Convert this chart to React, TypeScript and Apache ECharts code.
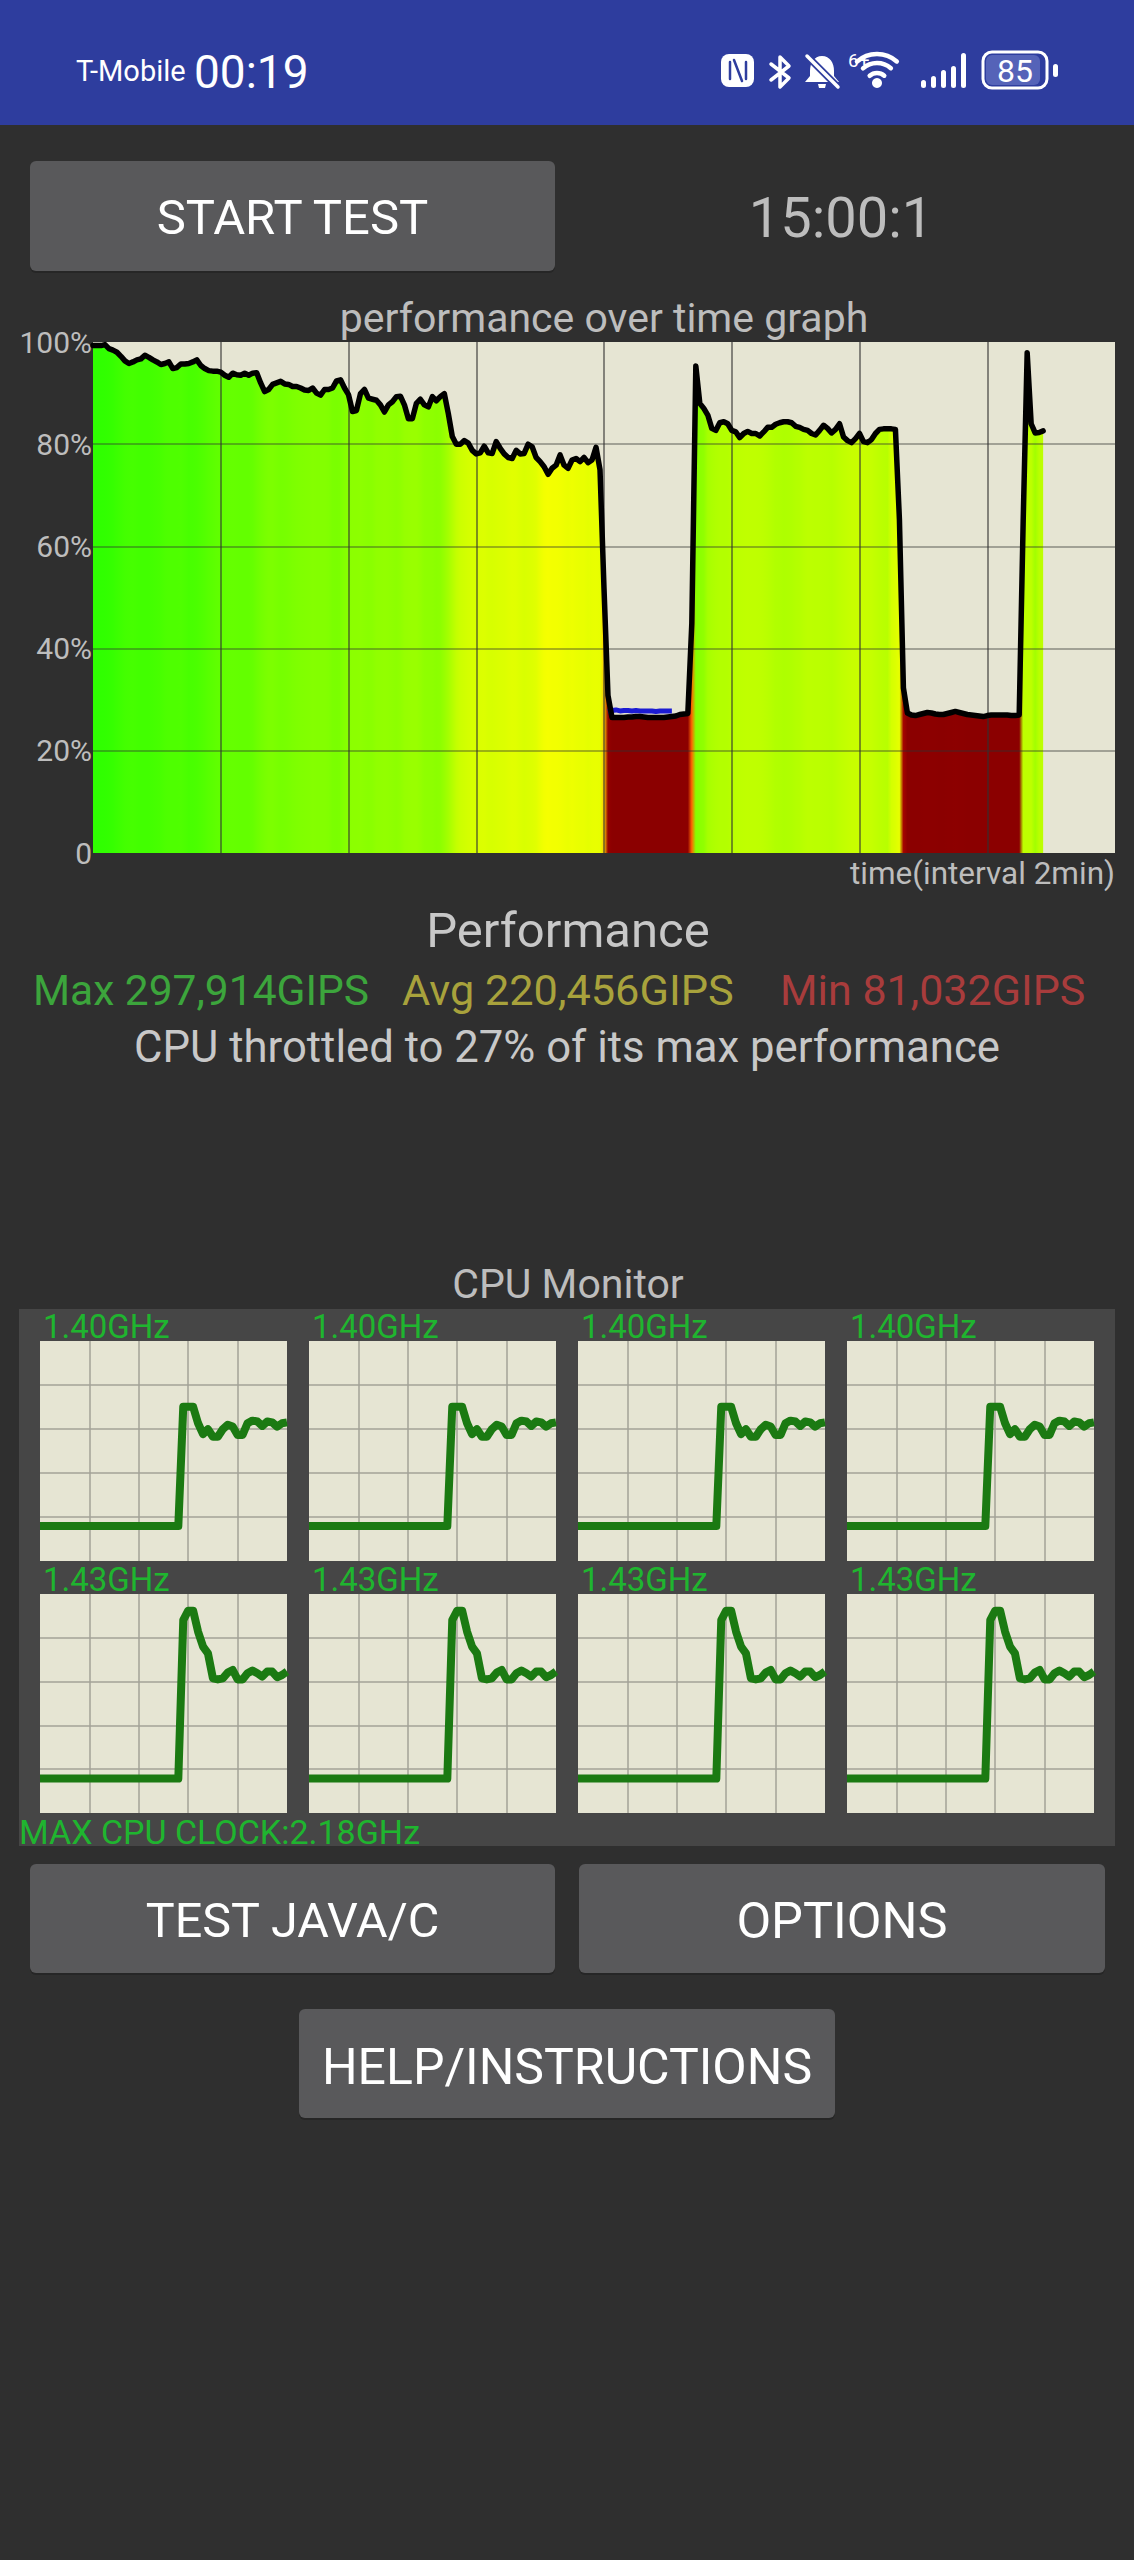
import React, { useEffect, useRef } from "react";
import * as echarts from "echarts";

const FONT = "Roboto, 'Noto Sans', sans-serif";

// ---- data ---------------------------------------------------------------
const sampleMinutes = 0.0625;
const performancePct = [
  99.3, 99.3, 99.3, 99.5, 98.7, 98.4, 98.0, 97.2, 96.3, 95.8, 96.1, 96.5, 96.7, 97.4, 97.0, 96.5, 96.1, 95.6, 95.8, 96.1,
  94.8, 95.0, 95.7, 95.7, 95.8, 96.1, 96.5, 95.4, 94.8, 94.4, 94.3, 94.3, 94.1, 93.5, 93.1, 93.9, 93.6, 93.5, 93.9, 93.5,
  93.9, 94.0, 92.0, 90.3, 90.7, 91.7, 92.0, 92.3, 91.8, 91.7, 91.3, 91.3, 91.0, 90.6, 90.5, 91.0, 90.0, 89.6, 90.7, 90.7,
  91.0, 92.4, 92.6, 91.0, 89.7, 86.4, 86.6,
  89.9, 90.7, 89.0, 88.8, 88.6, 87.7, 86.3, 87.7, 88.3, 89.3, 89.4, 87.7, 85.0, 85.0, 88.0, 88.8, 87.7, 87.3, 89.3, 88.5,
  89.3, 89.9, 86.0, 81.5, 80.0, 80.0, 80.7, 80.2, 78.8, 78.1, 78.3, 79.6, 78.3, 78.2, 80.5, 79.2, 78.1, 77.4, 77.2, 78.8,
  78.1, 78.2, 80.0, 79.5, 77.4, 76.6, 75.6, 74.1, 75.3, 75.9, 77.9, 75.9, 75.3, 76.9, 77.2, 76.6, 77.4, 76.4, 76.9, 79.4,
  75.0, 51.8, 30.8,
  26.5, 26.5, 26.5, 26.5, 26.6, 26.6, 26.7, 26.7, 26.6, 26.5, 26.5, 26.5, 26.5, 26.5, 26.6, 26.7, 26.8, 27.1, 27.2, 27.3,
  45.0, 95.3,
  88.0, 87.0, 85.7, 83.1, 82.7, 84.2, 84.4, 84.0, 82.7, 82.4, 81.3, 82.1, 82.5, 82.1, 82.1, 81.6, 82.4, 83.3, 83.3, 83.9,
  84.2, 84.4, 84.4, 84.2, 83.5, 83.3, 82.9, 82.7, 82.1, 81.8, 82.7, 83.7, 83.1, 82.2, 82.9, 84.0, 81.4, 80.7, 80.3, 81.1,
  82.1, 80.5, 80.3, 80.9, 82.1, 82.9, 83.0, 83.0, 83.0, 82.9,
  65.3, 32.3,
  27.4, 27.0, 26.9, 27.1, 27.3, 27.5, 27.4, 27.2, 27.1, 27.1, 27.3, 27.5, 27.7, 27.5, 27.3, 27.1, 27.0, 26.9, 26.8, 26.7,
  26.9, 27.0, 27.0, 27.0, 27.0, 27.0, 26.9, 26.9, 27.0,
  65.0, 97.9, 84.0, 82.2, 82.3, 82.6,
];
const lowestMarkStart = 129;
const lowestMarkPct = [27.7, 27.9, 28.0, 27.8, 27.9, 27.9, 27.8, 27.9, 27.8, 27.8, 27.8, 27.8, 27.7, 27.8, 27.8, 27.8, 27.8];

const cpuRowOnePct = [
  15.9, 15.9, 15.9, 15.9, 15.9, 15.9, 15.9, 15.9, 15.9, 15.9, 15.9, 15.9, 15.9, 15.9, 15.9, 15.9, 15.9, 15.9, 15.9, 15.9,
  15.9, 15.9, 15.9, 15.9, 15.9, 15.9, 15.9, 15.9, 15.9,
  70.1, 70.1, 70.1, 62.6, 57.7, 59.9, 56.5, 56.5, 59.9, 61.9, 61.1, 57.3, 57.3, 62.6, 63.8, 63.4, 61.4, 63.4, 63.0, 61.1, 62.6, 63.0,
];
const cpuRowTwoPct = [
  15.7, 15.7, 15.7, 15.7, 15.7, 15.7, 15.7, 15.7, 15.7, 15.7, 15.7, 15.7, 15.7, 15.7, 15.7, 15.7, 15.7, 15.7, 15.7, 15.7,
  15.7, 15.7, 15.7, 15.7, 15.7, 15.7, 15.7, 15.7, 15.7,
  88.1, 92.4, 92.4, 82.8, 76.0, 72.9, 61.5, 61.0, 61.5, 64.1, 65.3, 61.0, 61.0, 63.8, 65.0, 63.8, 62.3, 64.6, 64.6, 62.0, 63.0, 64.6,
];
const cpuFreqLabels = ["1.40GHz", "1.43GHz"];

// ---- value -> fill colour of the performance graph -----------------------
const colourStops: [number, number[]][] = [
  [27, [139, 0, 0]],
  [31, [150, 0, 0]],
  [40, [255, 32, 0]],
  [52, [255, 208, 0]],
  [60, [255, 255, 0]],
  [74.5, [255, 255, 0]],
  [77, [232, 255, 0]],
  [80, [208, 255, 0]],
  [84, [176, 255, 0]],
  [88, [144, 255, 0]],
  [91, [128, 255, 0]],
  [94, [96, 255, 0]],
  [96, [72, 255, 0]],
  [100, [42, 255, 0]],
];
function fillColour(v: number) {
  if (v <= colourStops[0][0]) return `rgb(${colourStops[0][1].join(",")})`;
  for (let i = 1; i < colourStops.length; i++) {
    const [hi, c1] = colourStops[i];
    if (v <= hi) {
      const [lo, c0] = colourStops[i - 1];
      const f = (v - lo) / (hi - lo);
      return `rgb(${c0.map((c, k) => Math.round(c + (c1[k] - c) * f)).join(",")})`;
    }
  }
  return "rgb(42,255,0)";
}
// The graph's colour bands are calmer than the line: high values are averaged with their high neighbours.
function colourValue(i: number) {
  const v = performancePct[i];
  if (v < 60) return v;
  const near = performancePct.slice(Math.max(0, i - 2), i + 3).filter((n) => n >= 60);
  return near.reduce((a, b) => a + b, 0) / near.length;
}

// ---- icons ---------------------------------------------------------------
echarts.graphic.registerShape(
  "bellIcon",
  echarts.graphic.extendPath(
    "M822 56C814 56 810 63 810 71L810 76L805 82L839 82L834 76L834 71C834 63 830 56 822 56ZM818 84L826 84L825 88L819 88Z",
    {}
  )
);

function App() {
  const ref = useRef<HTMLDivElement>(null);
  useEffect(() => {
    document.body.style.margin = "0";
    const chart = echarts.init(ref.current!, undefined, { renderer: "svg" });

    const txt = (text: string, x: number, y: number, size: number, fill: string, align = "center", extra: any = {}) => ({
      type: "text",
      style: { text, x, y, fill, align, verticalAlign: "middle", fontSize: size, fontFamily: FONT, ...extra },
    });
    const rect = (x: number, y: number, w: number, h: number, fill: string, r = 0) => ({
      type: "rect",
      shape: { x, y, width: w, height: h, r },
      style: { fill },
    });
    const button = (x: number, y: number, w: number, h: number, label: string, size: number, dy: number) => [
      rect(x, y + 2, w, h, "#262626", 6),
      rect(x, y, w, h, "#59595b", 6),
      txt(label, x + w / 2, y + h / 2 + dy, size, "#ffffff"),
    ];
    const line = (pts: number[][], stroke: string, w: number) => ({
      type: "polyline",
      shape: { points: pts },
      style: { stroke, lineWidth: w, fill: null, lineCap: "round", lineJoin: "round" },
    });
    const wifiArc = (r: number) => ({
      type: "arc",
      shape: { cx: 877, cy: 84, r, startAngle: -2.3, endAngle: -0.85, clockwise: true },
      style: { stroke: "#fff", lineWidth: 4.5, fill: null, lineCap: "round" },
    });

    const graphicEls: any[] = [
      // status bar
      rect(0, 0, 1134, 125, "#2e3d9e"),
      txt("T-Mobile", 76, 71, 29, "#ffffff", "left"),
      txt("00:19", 194, 72, 46, "#ffffff", "left"),
      rect(721, 54, 33, 33, "#ffffff", 8),
      line([[730, 79], [730, 62]], "#2e3d9e", 2.5),
      line([[734, 60], [742, 81]], "#2e3d9e", 2.5),
      line([[746, 79], [746, 62]], "#2e3d9e", 2.5),
      line([[771, 64], [789, 78], [780, 87], [780, 57], [789, 66], [771, 80]], "#ffffff", 3.5),
      { type: "bellIcon", style: { fill: "#ffffff" } },
      line([[807, 56], [838, 87]], "#2e3d9e", 7),
      line([[807, 56], [838, 87]], "#ffffff", 3.5),
      txt("6+", 848, 60, 19, "#ffffff", "left"),
      wifiArc(30),
      wifiArc(21),
      wifiArc(11),
      { type: "circle", shape: { cx: 877, cy: 83, r: 5 }, style: { fill: "#ffffff" } },
      rect(921, 80, 5, 8, "#ffffff", 2.5),
      rect(931, 76, 5, 12, "#ffffff", 2.5),
      rect(941, 70, 5, 18, "#ffffff", 2.5),
      rect(951, 66, 5, 22, "#ffffff", 2.5),
      rect(961, 53, 5, 35, "#ffffff", 2.5),
      { type: "rect", shape: { x: 983, y: 52, width: 64, height: 36, r: 9 }, style: { fill: "#2e3d9e", stroke: "#ffffff", lineWidth: 3 } },
      rect(986, 55, 54, 30, "#5563b8", 6),
      txt("85", 1015, 71, 32, "#ffffff"),
      rect(1053, 64, 5, 13, "#ffffff", 2.5),

      // top controls
      ...button(30, 161, 525, 110, "START TEST", 49, 1.5),
      txt("15:00:1", 841, 218, 56, "#bdbdbd"),

      // performance texts
      txt("performance over time graph", 604, 318, 41, "#bdbdbd"),
      txt("time(interval 2min)", 1115, 873, 31.5, "#bdbdbd", "right"),
      txt("Performance", 568, 930, 49, "#c8c8c8"),
      txt("Max 297,914GIPS", 33, 990, 42.5, "#3ca53c", "left"),
      txt("Avg 220,456GIPS", 402, 990, 43.3, "#a8a23c", "left"),
      txt("Min 81,032GIPS", 780, 990, 43, "#a83c3c", "left"),
      txt("CPU throttled to 27% of its max performance", 567, 1047, 43.7, "#c8c8c8"),

      // cpu monitor
      txt("CPU Monitor", 568, 1284, 41, "#bdbdbd"),
      rect(19, 1309, 1096, 537, "#464646"),
      txt("MAX CPU CLOCK:2.18GHz", 19, 1832, 34, "#1fb52f", "left"),

      // bottom buttons
      ...button(30, 1864, 525, 109, "TEST JAVA/C", 48.5, 1.5),
      ...button(579, 1864, 526, 109, "OPTIONS", 50.5, 1.5),
      ...button(299, 2009, 536, 109, "HELP/INSTRUCTIONS", 50, 3),
    ];

    const cpuLefts = [40, 309, 578, 847];
    const cpuRows = [
      { top: 1341, height: 220, data: cpuRowOnePct, label: cpuFreqLabels[0], labelY: 1326 },
      { top: 1594, height: 219, data: cpuRowTwoPct, label: cpuFreqLabels[1], labelY: 1579 },
    ];

    const grids: any[] = [
      { left: 93, top: 342, width: 1022, height: 511, show: true, backgroundColor: "#e6e5d3", borderWidth: 0, z: 1 },
    ];
    const xAxes: any[] = [
      {
        gridIndex: 0, type: "value", min: 0, max: 16, interval: 2, z: 3,
        axisLine: { show: false }, axisTick: { show: false }, axisLabel: { show: false },
        splitLine: { show: true, showMinLine: false, showMaxLine: false, lineStyle: { color: "rgba(50,50,50,0.55)", width: 2 } },
      },
    ];
    const yAxes: any[] = [
      {
        gridIndex: 0, type: "value", min: 0, max: 100, interval: 20, z: 3,
        axisLine: { show: false }, axisTick: { show: false },
        axisLabel: {
          margin: 1, fontSize: 30, fontFamily: FONT, color: "#bdbdbd", verticalAlign: "middle", lineHeight: 34,
          formatter: (v: number) => (v === 0 ? "0" : `${v}%`),
        },
        splitLine: { show: true, showMinLine: false, showMaxLine: false, lineStyle: { color: "rgba(50,50,50,0.5)", width: 1.5 } },
      },
    ];

    const perfData = performancePct.map((v, i) => [i * sampleMinutes, v]);
    const stops = performancePct.map((_, i) => ({
      offset: i / (performancePct.length - 1),
      color: fillColour(colourValue(i)),
    }));
    const series: any[] = [
      {
        type: "line", xAxisIndex: 0, yAxisIndex: 0, data: perfData, symbol: "none", z: 2,
        lineStyle: { width: 0, opacity: 0 },
        areaStyle: { opacity: 1, color: new echarts.graphic.LinearGradient(0, 0, 1, 0, stops) },
      },
      {
        type: "line", xAxisIndex: 0, yAxisIndex: 0, symbol: "none", z: 4,
        data: lowestMarkPct.map((v, i) => [(lowestMarkStart + i) * sampleMinutes, v]),
        lineStyle: { color: "#1c1cd2", width: 5 },
      },
      {
        type: "line", xAxisIndex: 0, yAxisIndex: 0, symbol: "none", z: 5, data: perfData,
        lineStyle: { color: "#000000", width: 5.5, join: "round", cap: "round" },
      },
    ];

    cpuRows.forEach((row) => {
      cpuLefts.forEach((left) => {
        const idx = grids.length;
        grids.push({
          left, top: row.top, width: 247, height: row.height, show: true,
          backgroundColor: "#e6e5d3", borderWidth: 0, z: 1,
        });
        const axisBase = {
          gridIndex: idx, type: "value", z: 3,
          axisLine: { show: false }, axisTick: { show: false }, axisLabel: { show: false },
          splitLine: { show: true, showMinLine: false, showMaxLine: false, lineStyle: { color: "#a3a297", width: 1.5 } },
        };
        xAxes.push({ ...axisBase, min: 0, max: 50, interval: 10 });
        yAxes.push({ ...axisBase, min: 0, max: 100, interval: 20 });
        series.push({
          type: "line", xAxisIndex: idx, yAxisIndex: idx, symbol: "none", z: 5,
          data: row.data.map((v, i) => [i, v]),
          lineStyle: { color: "#1b7a12", width: 8, join: "round" },
        });
        graphicEls.push(txt(row.label, left + 3, row.labelY, 33, "#1fb52f", "left"));
      });
    });

    chart.setOption({
      animation: false,
      backgroundColor: "#2f2f2f",
      grid: grids,
      xAxis: xAxes,
      yAxis: yAxes,
      series,
      graphic: { elements: graphicEls },
    });
    return () => chart.dispose();
  }, []);

  return <div ref={ref} style={{ position: "absolute", left: 0, top: 0, width: 1134, height: 2560 }} />;
}

export default App;
